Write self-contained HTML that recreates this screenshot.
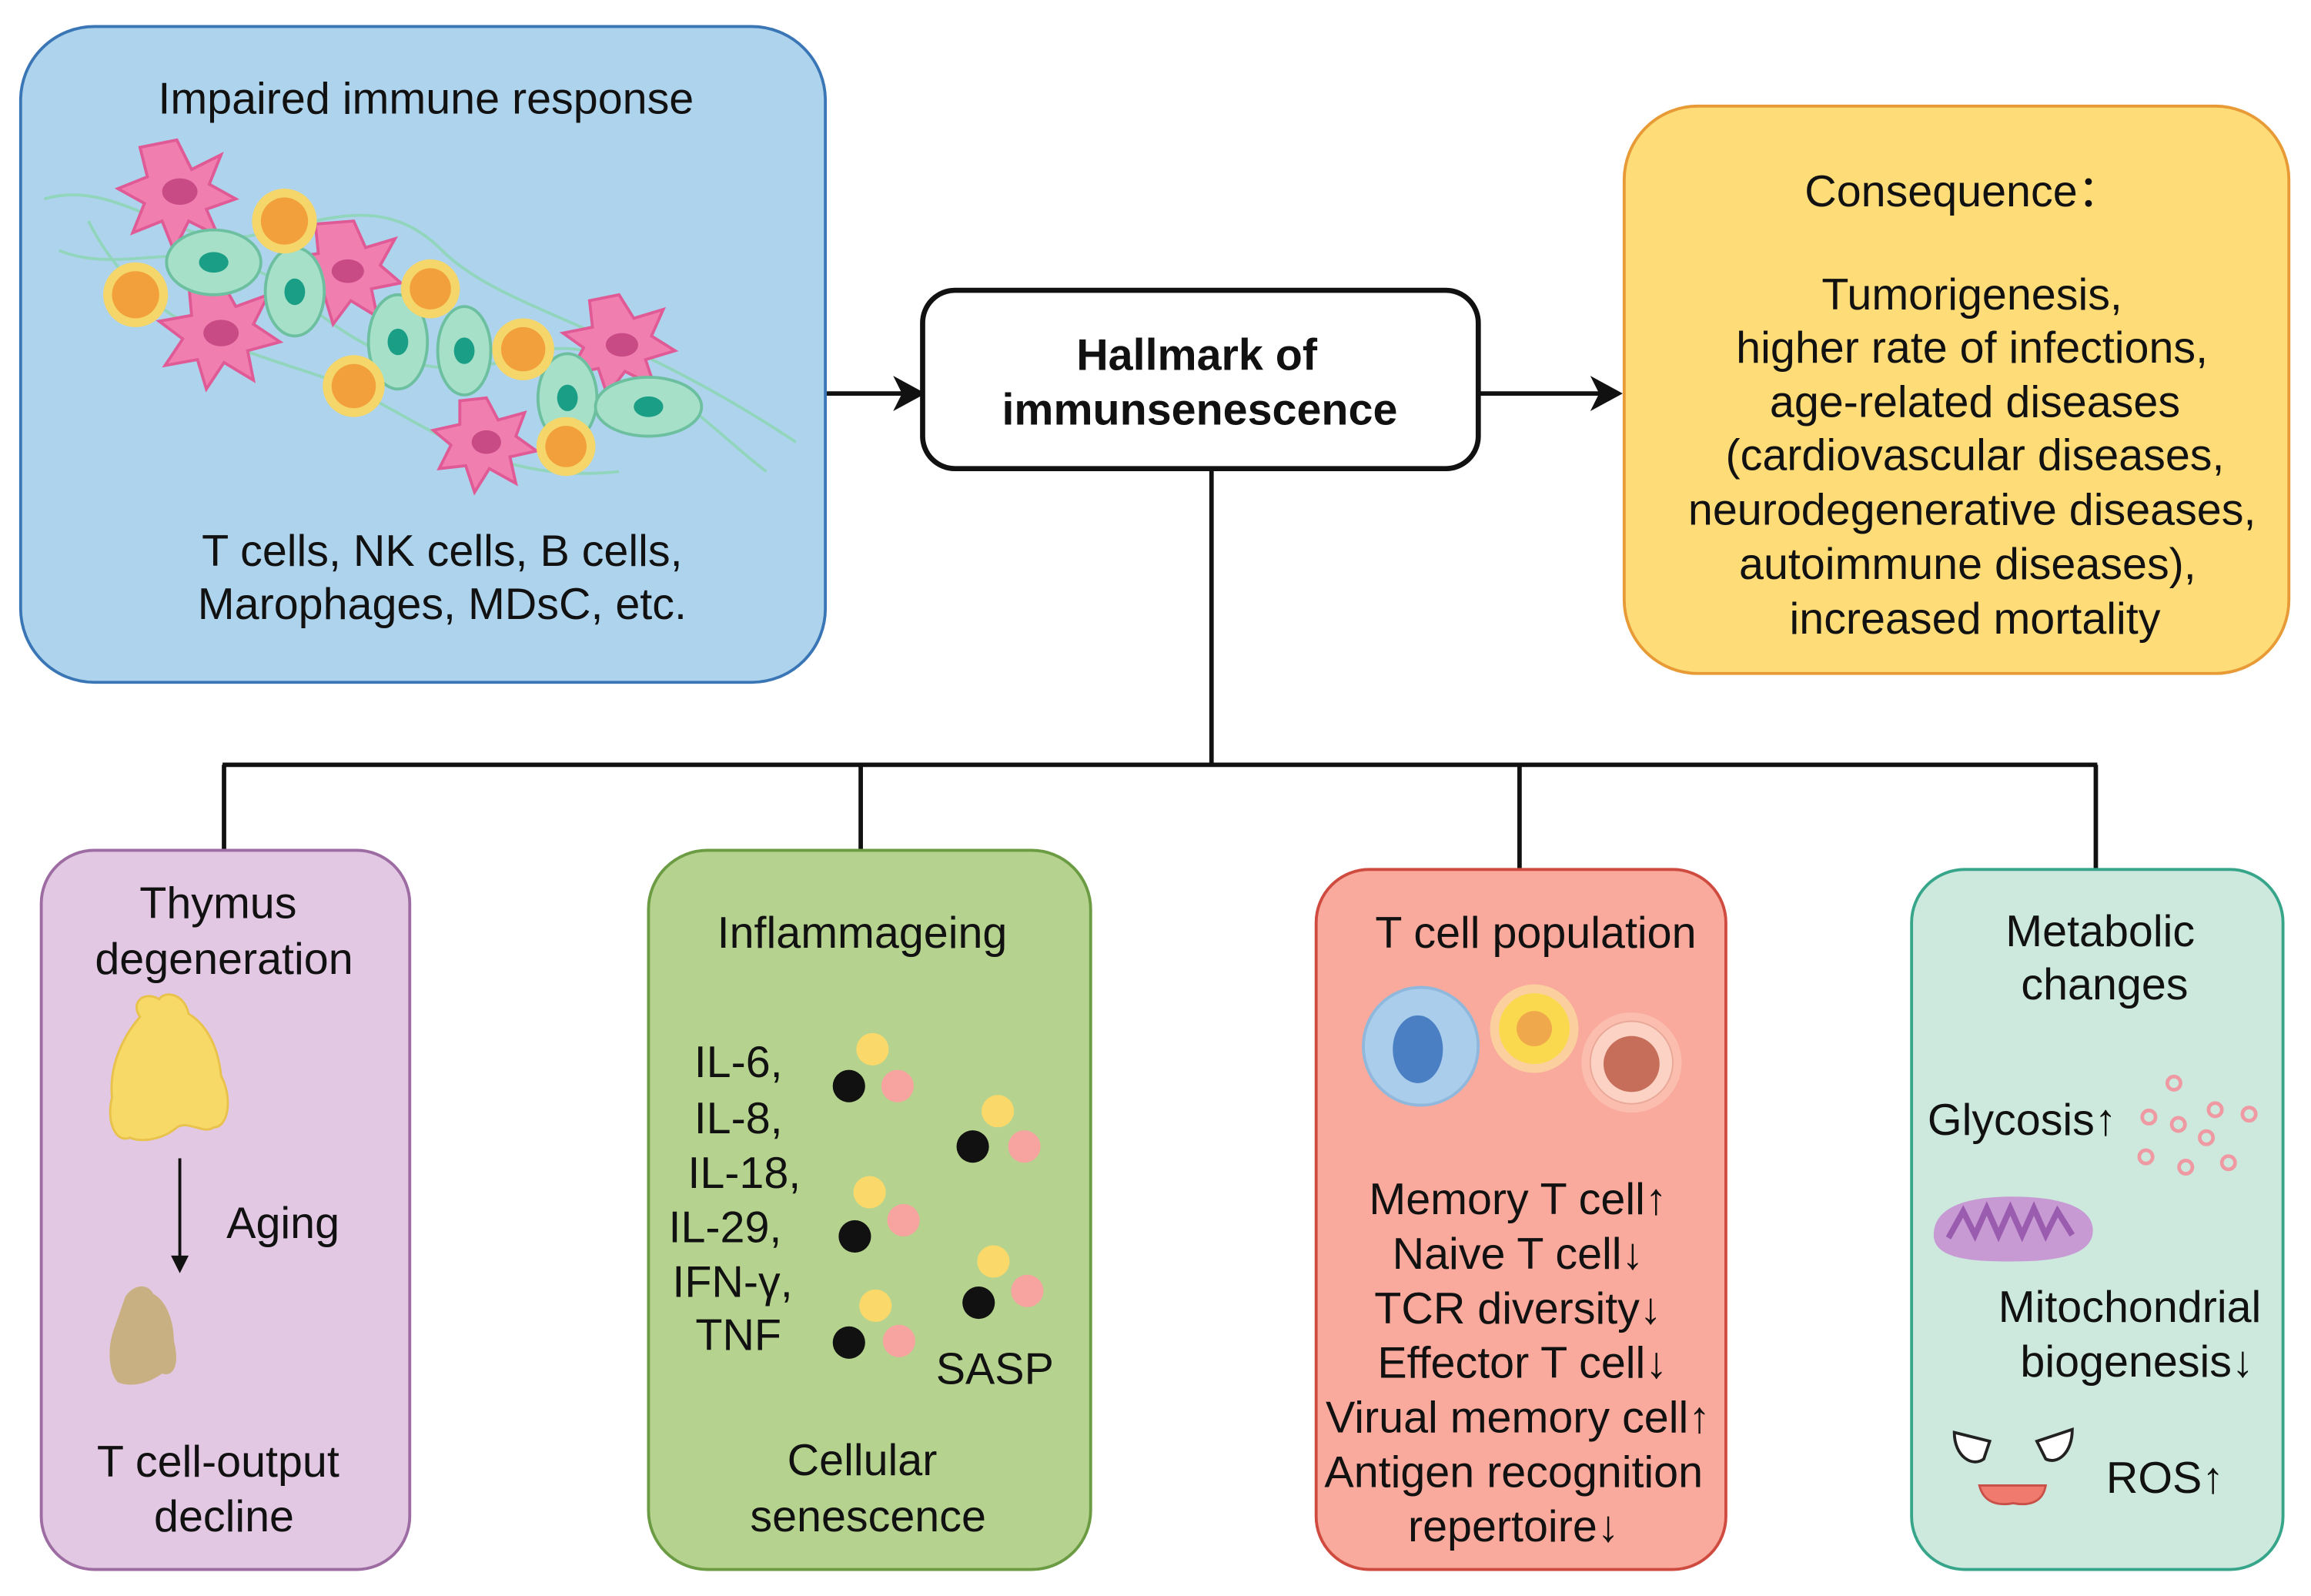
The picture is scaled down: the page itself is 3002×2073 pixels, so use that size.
<!DOCTYPE html>
<html><head><meta charset="utf-8"><style>
html,body{margin:0;padding:0;background:#fff;}
svg{display:block;}
text{font-family:"Liberation Sans",Arial,sans-serif;fill:#111;}
</style></head><body>
<svg width="3002" height="2073" viewBox="0 0 1568 1083" preserveAspectRatio="none" xmlns="http://www.w3.org/2000/svg">
<rect width="1568" height="1083" fill="#fff"/>

<!-- connectors -->
<g stroke="#111" stroke-width="3" fill="none">
<line x1="560" y1="267" x2="612" y2="267"/>
<path d="M606,255 L628,267 L606,279 L612,267 Z" fill="#111" stroke="none"/>
<line x1="1004" y1="267" x2="1086" y2="267"/>
<path d="M1079,255 L1101,267 L1079,279 L1085,267 Z" fill="#111" stroke="none"/>
<line x1="822" y1="318" x2="822" y2="519"/>
<line x1="151" y1="519" x2="1423" y2="519"/>
<line x1="152" y1="519" x2="152" y2="577"/>
<line x1="584" y1="519" x2="584" y2="577"/>
<line x1="1031" y1="519" x2="1031" y2="591"/>
<line x1="1422" y1="519" x2="1422" y2="591"/>
</g>

<!-- blue box -->
<rect x="14" y="18" width="546" height="445" rx="50" fill="#aed3ec" stroke="#3a76b6" stroke-width="2"/>
<text x="289" y="77" font-size="30" text-anchor="middle">Impaired immune response</text>
<g>
<g stroke="#8fd6b8" stroke-width="2" fill="none" opacity="0.9">
<path d="M30,135 C80,120 120,170 170,160 S260,130 300,170 S420,220 540,300"/>
<path d="M40,170 C90,190 140,150 200,200 S300,260 360,240 S480,290 520,320"/>
<path d="M60,150 C100,230 180,240 230,260 S330,330 420,320"/>
</g>
<g fill="#f07fb0" stroke="#e05a96" stroke-width="2">
<path d="M120,95 L130,115 L150,105 L142,125 L160,135 L140,142 L148,160 L128,150 L118,170 L110,150 L90,158 L98,138 L80,128 L100,120 L95,100 Z"/>
<path d="M240,150 L248,168 L268,162 L258,180 L272,192 L252,196 L256,215 L238,204 L226,220 L220,200 L200,204 L210,188 L196,175 L216,172 L214,152 Z"/>
<path d="M150,190 L160,208 L182,200 L172,220 L190,232 L168,238 L172,258 L152,246 L140,264 L134,244 L112,248 L124,230 L108,218 L130,214 L128,192 Z"/>
<path d="M420,200 L430,216 L450,210 L442,228 L458,238 L438,244 L444,262 L424,252 L412,268 L406,250 L386,254 L396,236 L382,226 L402,222 L400,204 Z"/>
<path d="M330,270 L338,285 L356,280 L350,296 L364,306 L346,310 L350,328 L332,318 L322,334 L316,316 L298,318 L306,302 L294,292 L312,288 L312,272 Z"/>
</g>
<g fill="#c94b86"><ellipse cx="122" cy="130" rx="12" ry="9"/><ellipse cx="236" cy="184" rx="11" ry="8"/><ellipse cx="150" cy="226" rx="12" ry="9"/><ellipse cx="422" cy="234" rx="11" ry="8"/><ellipse cx="330" cy="300" rx="10" ry="8"/></g>
<g fill="#a6e0c8" stroke="#6cc0a0" stroke-width="2">
<ellipse cx="145" cy="178" rx="32" ry="22"/><ellipse cx="200" cy="198" rx="20" ry="30"/><ellipse cx="270" cy="232" rx="20" ry="32"/><ellipse cx="315" cy="238" rx="18" ry="30"/><ellipse cx="385" cy="270" rx="20" ry="30"/><ellipse cx="440" cy="276" rx="36" ry="20"/>
</g>
<g fill="#1a9e86"><ellipse cx="145" cy="178" rx="10" ry="7"/><ellipse cx="200" cy="198" rx="7" ry="9"/><ellipse cx="270" cy="232" rx="7" ry="9"/><ellipse cx="315" cy="238" rx="7" ry="9"/><ellipse cx="385" cy="270" rx="7" ry="9"/><ellipse cx="440" cy="276" rx="10" ry="7"/></g>
<g fill="#f5d66a"><circle cx="193" cy="150" r="22"/><circle cx="92" cy="200" r="22"/><circle cx="292" cy="196" r="20"/><circle cx="240" cy="262" r="21"/><circle cx="355" cy="237" r="21"/><circle cx="384" cy="303" r="20"/></g>
<g fill="#f2a03c"><circle cx="193" cy="150" r="16"/><circle cx="92" cy="200" r="16"/><circle cx="292" cy="196" r="14"/><circle cx="240" cy="262" r="15"/><circle cx="355" cy="237" r="15"/><circle cx="384" cy="303" r="14"/></g>
</g>
<text x="300" y="384" font-size="30" text-anchor="middle">T cells, NK cells, B cells,</text>
<text x="300" y="420" font-size="30" text-anchor="middle">Marophages, MDsC, etc.</text>

<!-- hallmark -->
<rect x="626" y="197" width="377" height="121" rx="22" fill="#fff" stroke="#111" stroke-width="3.5"/>
<text x="812" y="251" font-size="30" font-weight="bold" text-anchor="middle">Hallmark of</text>
<text x="814" y="288" font-size="30" font-weight="bold" text-anchor="middle">immunsenescence</text>

<!-- orange -->
<rect x="1102" y="72" width="451" height="385" rx="50" fill="#fedc78" stroke="#e79a35" stroke-width="2"/>
<g font-size="30" text-anchor="middle">
<text x="1332" y="140">Consequence：</text>
<text x="1338" y="210">Tumorigenesis,</text>
<text x="1338" y="246">higher rate of infections,</text>
<text x="1340" y="283">age-related diseases</text>
<text x="1340" y="319">(cardiovascular diseases,</text>
<text x="1338" y="356">neurodegenerative diseases,</text>
<text x="1335" y="393">autoimmune diseases),</text>
<text x="1340" y="430">increased mortality</text>
</g>

<!-- purple -->
<rect x="28" y="577" width="250" height="488" rx="36" fill="#e2c8e2" stroke="#9d6ca2" stroke-width="2"/>
<g font-size="30" text-anchor="middle">
<text x="148" y="623">Thymus</text>
<text x="152" y="661">degeneration</text>
<text x="192" y="840">Aging</text>
<text x="148" y="1002">T cell-output</text>
<text x="152" y="1039">decline</text>
</g>
<path d="M95,690 C88,680 98,672 108,678 C112,672 125,674 128,688 C140,695 148,710 150,730 C158,745 155,765 145,765 C138,770 128,760 120,765 C112,772 98,776 88,772 C78,776 72,760 76,745 C74,725 82,705 95,690 Z" fill="#f7d968" stroke="#e8c24a" stroke-width="1.5"/>
<path d="M85,880 C90,872 100,870 104,878 C112,882 118,895 118,910 C122,925 118,935 110,932 C102,938 90,942 80,938 C74,932 72,915 78,900 Z" fill="#c9b083"/>
<line x1="122" y1="786" x2="122" y2="855" stroke="#111" stroke-width="2"/>
<path d="M116,852 L122,864 L128,852 Z" fill="#111"/>

<!-- green -->
<rect x="440" y="577" width="300" height="488" rx="40" fill="#b5d38e" stroke="#6b9b42" stroke-width="2"/>
<g font-size="30" text-anchor="middle">
<text x="585" y="643">Inflammageing</text>
<text x="501" y="731">IL-6,</text>
<text x="501" y="769">IL-8,</text>
<text x="505" y="806">IL-18,</text>
<text x="492" y="843">IL-29,</text>
<text x="497" y="880">IFN-γ,</text>
<text x="501" y="916">TNF</text>
<text x="675" y="939">SASP</text>
<text x="585" y="1001">Cellular</text>
<text x="589" y="1039">senescence</text>
</g>
<g>
<g><circle cx="592" cy="712" r="11" fill="#fbd86a"/><circle cx="576" cy="737" r="11" fill="#111"/><circle cx="609" cy="737" r="11" fill="#f7a3a0"/></g>
<g><circle cx="677" cy="754" r="11" fill="#fbd86a"/><circle cx="660" cy="778" r="11" fill="#111"/><circle cx="695" cy="778" r="11" fill="#f7a3a0"/></g>
<g><circle cx="590" cy="809" r="11" fill="#fbd86a"/><circle cx="580" cy="839" r="11" fill="#111"/><circle cx="613" cy="828" r="11" fill="#f7a3a0"/></g>
<g><circle cx="674" cy="856" r="11" fill="#fbd86a"/><circle cx="664" cy="884" r="11" fill="#111"/><circle cx="697" cy="876" r="11" fill="#f7a3a0"/></g>
<g><circle cx="594" cy="886" r="11" fill="#fbd86a"/><circle cx="576" cy="911" r="11" fill="#111"/><circle cx="610" cy="910" r="11" fill="#f7a3a0"/></g>
</g>

<!-- red -->
<rect x="893" y="590" width="278" height="475" rx="36" fill="#f9aa9c" stroke="#cf4a3f" stroke-width="2"/>
<g font-size="30" text-anchor="middle">
<text x="1042" y="643">T cell population</text>
<text x="1030" y="824">Memory T cell↑</text>
<text x="1030" y="861">Naive T cell↓</text>
<text x="1030" y="898">TCR diversity↓</text>
<text x="1033" y="935">Effector T cell↓</text>
<text x="1030" y="972">Virual memory cell↑</text>
<text x="1027" y="1009">Antigen recognition</text>
<text x="1027" y="1046">repertoire↓</text>
</g>
<ellipse cx="964" cy="710" rx="39" ry="40" fill="#a9cdea" stroke="#8fb8dc" stroke-width="2"/>
<ellipse cx="962" cy="712" rx="17" ry="23" fill="#4a7fc4"/>
<circle cx="1041" cy="698" r="30" fill="#fbe9a0" opacity="0.6"/>
<circle cx="1041" cy="698" r="24" fill="#fbd94e"/>
<circle cx="1041" cy="698" r="12" fill="#efa94c"/>
<circle cx="1107" cy="721" r="34" fill="#fcc4b6" opacity="0.7"/>
<circle cx="1107" cy="721" r="28" fill="#fbd2c4" stroke="#e9a898" stroke-width="1"/>
<circle cx="1107" cy="722" r="19" fill="#c66e5a"/>

<!-- teal -->
<rect x="1297" y="590" width="252" height="475" rx="36" fill="#cde9de" stroke="#36a589" stroke-width="2"/>
<g font-size="30" text-anchor="middle">
<text x="1425" y="642">Metabolic</text>
<text x="1428" y="678">changes</text>
<text x="1372" y="770">Glycosis↑</text>
<text x="1445" y="897">Mitochondrial</text>
<text x="1450" y="934">biogenesis↓</text>
<text x="1469" y="1013">ROS↑</text>
</g>
<g fill="none" stroke="#ef9aa3" stroke-width="2.5">
<circle cx="1475" cy="735" r="4.5"/><circle cx="1503" cy="753" r="4.5"/><circle cx="1526" cy="756" r="4.5"/><circle cx="1458" cy="758" r="4.5"/><circle cx="1478" cy="763" r="4.5"/><circle cx="1497" cy="772" r="4.5"/><circle cx="1456" cy="785" r="4.5"/><circle cx="1483" cy="792" r="4.5"/><circle cx="1512" cy="789" r="4.5"/>
</g>
<path d="M1312,838 C1312,815 1345,812 1365,812 C1395,812 1420,818 1420,835 C1420,852 1395,856 1365,856 C1340,856 1312,855 1312,838 Z" fill="#c89ad4"/>
<path d="M1322,840 L1332,822 L1340,838 L1348,820 L1356,838 L1364,820 L1372,838 L1380,820 L1388,838 L1396,822 L1406,838" fill="none" stroke="#9a5cae" stroke-width="4"/>
<path d="M1326,972 L1350,978 L1346,990 C1338,996 1326,988 1326,972 Z" fill="#fff" stroke="#222" stroke-width="2"/>
<path d="M1406,970 L1382,978 L1388,990 C1396,994 1406,986 1406,970 Z" fill="#fff" stroke="#222" stroke-width="2"/>
<path d="M1343,1008 L1388,1008 C1386,1020 1376,1022 1366,1020 C1356,1022 1346,1020 1343,1008 Z" fill="#f07a6e" stroke="#c85048" stroke-width="1.5"/>
</svg>
</body></html>
